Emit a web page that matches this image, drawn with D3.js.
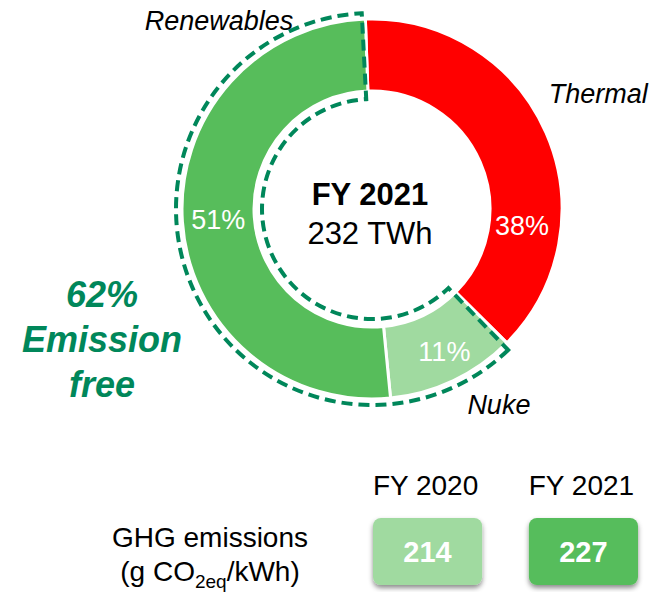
<!DOCTYPE html>
<html>
<head>
<meta charset="utf-8">
<script src="https://cdn.jsdelivr.net/npm/d3@7"></script>
<style>
  body { margin: 0; background: #fff; }
  svg { display: block; font-family: "Liberation Sans", Arial, sans-serif; }
</style>
</head>
<body>
<div id="chart"></div>
<script>
// mix of generation, FY 2021
var categories = ['Thermal', 'Nuke', 'Renewables'];
var shares = [38, 11, 51];
var sliceColors = ['#ff0000', '#a0daa0', '#57bd5b'];
var emissionFree = ['Nuke', 'Renewables'];

// GHG intensity
var years = ['FY 2020', 'FY 2021'];
var ghgValues = [214, 227];
var boxColors = ['#a0daa0', '#57bd5b'];

var W = 658, H = 592;
var CX = 372, CY = 209,
    R_OUT = 190, R_IN = 118;
var DARK_GREEN = '#00875a';
var deg = Math.PI / 180;

var svg = d3.select('#chart')
  .append('svg')
  .attr('width', W)
  .attr('height', H);

var defs = svg.append('defs');
var shadow = defs.append('filter')
  .attr('id', 'shadow')
  .attr('x', '-20%').attr('y', '-20%')
  .attr('width', '140%').attr('height', '160%');
shadow.append('feDropShadow')
  .attr('dx', 0).attr('dy', 3)
  .attr('stdDeviation', 2.5)
  .attr('flood-color', '#000')
  .attr('flood-opacity', 0.45);

var data = categories.map(function(c, i) {
  return { name: c, value: shares[i], color: sliceColors[i] };
});

// pie starts a little left of 12 o'clock like the original
var pie = d3.pie()
  .sort(null)
  .value(function(d) { return d.value; })
  .startAngle(-2 * deg)
  .endAngle(358 * deg);
var arcs = pie(data);

var arc = d3.arc().innerRadius(R_IN).outerRadius(R_OUT);

var g = svg.append('g')
  .attr('transform', 'translate(' + CX + ',' + CY + ')');

g.selectAll('path.slice')
  .data(arcs)
  .enter()
  .append('path')
  .attr('class', 'slice')
  .attr('d', arc)
  .attr('fill', function(d) { return d.data.color; })
  .attr('stroke', '#fff')
  .attr('stroke-width', 3)
  .attr('stroke-linejoin', 'miter');

// dashed outline round the emission free part
var free = arcs.filter(function(d) { return emissionFree.indexOf(d.data.name) >= 0; });
var freeArc = d3.arc()
  .innerRadius(R_IN - 8)
  .outerRadius(R_OUT + 6)
  .startAngle(d3.min(free, function(d) { return d.startAngle; }) + 1.2 * deg)
  .endAngle(d3.max(free, function(d) { return d.endAngle; }) - 1 * deg);
g.append('path')
  .attr('d', freeArc())
  .attr('fill', 'none')
  .attr('stroke', DARK_GREEN)
  .attr('stroke-width', 4)
  .attr('stroke-dasharray', '11 6')
  .attr('stroke-linejoin', 'miter');

// percent labels (thermal one was moved down in the original)
var pctNudge = { Thermal: 30 * deg, Nuke: -1.5 * deg, Renewables: 0 };
var pctRadius = { Thermal: 151, Nuke: 160, Renewables: 154 };
g.selectAll('text.pct')
  .data(arcs)
  .enter()
  .append('text')
  .attr('class', 'pct')
  .attr('x', function(d) {
    var a = (d.startAngle + d.endAngle) / 2 + pctNudge[d.data.name];
    return pctRadius[d.data.name] * Math.sin(a);
  })
  .attr('y', function(d) {
    var a = (d.startAngle + d.endAngle) / 2 + pctNudge[d.data.name];
    return -pctRadius[d.data.name] * Math.cos(a);
  })
  .attr('dy', '0.35em')
  .attr('text-anchor', 'middle')
  .attr('fill', '#fff')
  .style('font-size', '27px')
  .text(function(d) { return d.data.value + '%'; });

// category names around the ring
var nameAt = {
  Thermal: { a: 63, r: 254 },
  Nuke: { a: 147, r: 233 },
  Renewables: { a: 321, r: 243 }
};
g.selectAll('text.name')
  .data(arcs)
  .enter()
  .append('text')
  .attr('class', 'name')
  .attr('x', function(d) { var p = nameAt[d.data.name]; return p.r * Math.sin(p.a * deg); })
  .attr('y', function(d) { var p = nameAt[d.data.name]; return -p.r * Math.cos(p.a * deg); })
  .attr('dy', '0.35em')
  .attr('text-anchor', 'middle')
  .attr('fill', '#000')
  .style('font-size', '27px')
  .style('font-style', 'italic')
  .text(function(d) { return d.data.name; });

// centre text
g.append('text')
  .attr('x', -2).attr('y', -4)
  .attr('text-anchor', 'middle')
  .style('font-size', '31px')
  .style('font-weight', 'bold')
  .text('FY 2021');
g.append('text')
  .attr('x', -2).attr('y', 35)
  .attr('text-anchor', 'middle')
  .style('font-size', '31px')
  .text('232 TWh');

// emission free share
var freeShare = d3.sum(free, function(d) { return d.data.value; });
var freeText = svg.append('text')
  .attr('x', 102)
  .attr('y', 307)
  .attr('text-anchor', 'middle')
  .attr('fill', DARK_GREEN)
  .style('font-size', '36px')
  .style('font-weight', 'bold')
  .style('font-style', 'italic');
[freeShare + '%', 'Emission', 'free'].forEach(function(t, i) {
  freeText.append('tspan')
    .attr('x', 102)
    .attr('dy', i === 0 ? 0 : 45)
    .text(t);
});

// GHG boxes
var x = d3.scaleBand()
  .domain(years)
  .range([373, 638])
  .paddingInner(0.3)
  .paddingOuter(0);
var BOX_TOP = 518, BOX_H = 67;

svg.selectAll('text.year')
  .data(years)
  .enter()
  .append('text')
  .attr('class', 'year')
  .attr('x', function(d) { return x(d) + x.bandwidth() / 2 - 2; })
  .attr('y', 495)
  .attr('text-anchor', 'middle')
  .style('font-size', '28px')
  .text(function(d) { return d; });

var boxes = svg.selectAll('g.box')
  .data(years)
  .enter()
  .append('g')
  .attr('class', 'box')
  .attr('transform', function(d) { return 'translate(' + x(d) + ',' + BOX_TOP + ')'; });

boxes.append('rect')
  .attr('width', x.bandwidth())
  .attr('height', BOX_H)
  .attr('rx', 8)
  .attr('fill', function(d, i) { return boxColors[i]; })
  .attr('filter', 'url(#shadow)');

boxes.append('text')
  .attr('x', x.bandwidth() / 2)
  .attr('y', BOX_H / 2)
  .attr('dy', '0.36em')
  .attr('text-anchor', 'middle')
  .attr('fill', '#fff')
  .style('font-size', '29px')
  .style('font-weight', 'bold')
  .text(function(d, i) { return ghgValues[i]; });

// row label
svg.append('text')
  .attr('x', 210)
  .attr('y', 547)
  .attr('text-anchor', 'middle')
  .style('font-size', '28px')
  .text('GHG emissions');
var unit = svg.append('text')
  .attr('x', 210)
  .attr('y', 581)
  .attr('text-anchor', 'middle')
  .style('font-size', '28px');
unit.append('tspan').text('(g CO');
unit.append('tspan').attr('dy', 7).style('font-size', '19px').text('2eq');
unit.append('tspan').attr('dy', -7).text('/kWh)');
</script>
</body>
</html>
